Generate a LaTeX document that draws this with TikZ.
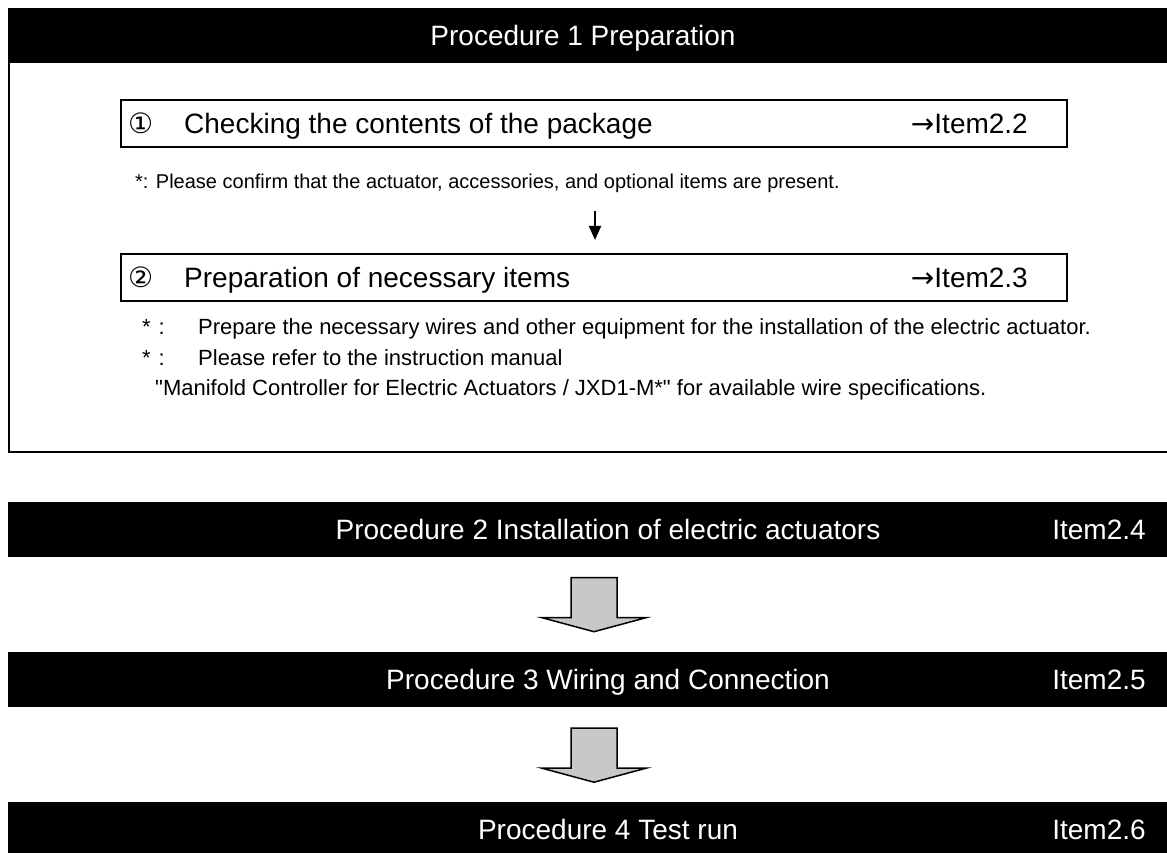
\documentclass[tikz,border=0pt]{standalone}
\usepackage{fontspec}
\setmainfont{Liberation Sans}
\newfontfamily\symfont{DejaVu Sans}
\usetikzlibrary{arrows.meta,positioning,calc}
\definecolor{arrowgray}{HTML}{C8C8C8}
\newcommand{\headsize}{\fontsize{28}{33}\selectfont}
\newcommand{\notesize}{\fontsize{22}{26}\selectfont}
\newcommand{\notemark}{\makebox[56pt][l]{*\hspace{8pt}:}}
\newcommand{\stepmark}[1]{\makebox[56pt][l]{\symfont #1}}

\begin{document}
\begin{tikzpicture}[x=1pt, y=-1pt,
  bar/.style={fill=black, minimum width=1167pt, minimum height=55pt, inner sep=0pt},
  bartext/.style={text=white, font=\headsize, text height=20pt, text depth=0pt, inner sep=0pt},
  stepbox/.style={draw, line width=2pt, minimum width=946pt, minimum height=47pt, inner sep=0pt},
  steptext/.style={font=\headsize, text height=20pt, text depth=0pt, inner sep=0pt},
  note/.style={anchor=base west, font=\notesize, inner sep=0pt},
  smallarrow/.style={-{Triangle[length=14pt, width=12pt]}, line width=2pt},
  blockarrow/.style={draw=black, fill=arrowgray, line width=1.5pt, line join=miter}
]
  \useasboundingbox (0,0) rectangle (1167,853);
  \clip (0,0) rectangle (1167,853);

  % procedure 1 with its frame
  \draw[line width=2.5pt] (9,35) rectangle (1190,452);
  \node[bar] (bar1) at (591,35.5) {};
  \node[bartext] (proc1) at (583,35.5) {Procedure 1 Preparation};

  \node[stepbox] (box1) at (594,124) {};
  \node[steptext, anchor=west] (check) at ([xshift=8pt]box1.west) {\stepmark{①}Checking the contents of the package};
  \node[steptext, anchor=east] (ref22) at ([xshift=-40pt]box1.east) {{\symfont →}Item2.2};
  \node[note, font=\fontsize{20}{24}\selectfont] (note1) at (135,189) {*: Please confirm that the actuator, accessories, and optional items are present.};

  \node[stepbox] (box2) at (594,277.5) {};
  \node[steptext, anchor=west] (prep) at ([xshift=8pt]box2.west) {\stepmark{②}Preparation of necessary items};
  \node[steptext, anchor=east] (ref23) at ([xshift=-40pt]box2.east) {{\symfont →}Item2.3};
  \node[note] (note2) at (142,334) {\notemark Prepare the necessary wires and other equipment for the installation of the electric actuator.};
  \node[note] (note3) at (142,365) {\notemark Please refer to the instruction manual};
  \node[note] (note4) at (155,395) {\textquotedbl Manifold Controller for Electric Actuators / JXD1-M*\textquotedbl{} for available wire specifications.};

  \draw[smallarrow] ($(box2.north)+(1,-42)$) -- ($(box2.north)+(1,-13)$);

  % procedures 2 to 4
  \node[bar] (bar2) at (591,529) {};
  \node[bartext] (proc2) at (608,529) {Procedure 2 Installation of electric actuators};
  \node[bartext] (item24) at (1099,529) {Item2.4};

  \node[bar] (bar3) at (591,679.5) {};
  \node[bartext] (proc3) at (608,679.5) {Procedure 3 Wiring and Connection};
  \node[bartext] (item25) at (1099,679.5) {Item2.5};

  \node[bar] (bar4) at (591,829.5) {};
  \node[bartext] (proc4) at (608,829.5) {Procedure 4 Test run};
  \node[bartext] (item26) at (1099,829.5) {Item2.6};

  \foreach \from in {bar2, bar3}
    \draw[blockarrow] ($(\from.south -| box1.center)+(-23,21)$) -- ++(0,40) -- ++(-29,0)
      -- ++(52,14) -- ++(52,-14) -- ++(-29,0) -- ++(0,-40) -- cycle;
\end{tikzpicture}
\end{document}
